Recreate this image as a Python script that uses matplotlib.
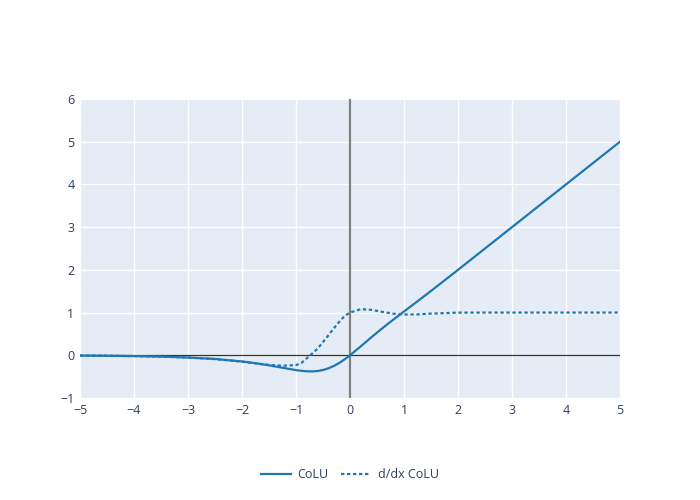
import matplotlib
matplotlib.use("Agg")
import matplotlib.pyplot as plt

plt.rcParams['font.family'] = ['Open Sans', 'DejaVu Sans']

# values
x = [-5, -4.5, -4, -3.5, -3, -2.5, -2, -1.75, -1.5, -1.25, -1, -0.9, -0.8,
     -0.7, -0.6, -0.5, -0.4, -0.3, -0.2, -0.1, 0, 0.2, 0.4, 0.6, 0.8, 1,
     1.25, 1.5, 2, 2.5, 3, 4, 5]
colu = [-0.007, -0.011, -0.019, -0.031, -0.052, -0.086, -0.144, -0.185,
        -0.235, -0.292, -0.347, -0.364, -0.375, -0.377, -0.368, -0.345,
        -0.306, -0.251, -0.181, -0.096, 0.0, 0.210, 0.426, 0.634, 0.832,
        1.025, 1.264, 1.506, 2.0, 2.5, 3.0, 4.0, 5.0]
dcolu = [-0.007, -0.011, -0.019, -0.032, -0.053, -0.089, -0.15, -0.19,
         -0.225, -0.245, -0.23, -0.18, -0.07, 0.04, 0.155, 0.31, 0.467,
         0.63, 0.783, 0.92, 1.0, 1.08, 1.064, 1.015, 0.974, 0.955, 0.957,
         0.976, 0.998, 1.0, 1.0, 1.0, 1.0]

x_ticks = [-5, -4, -3, -2, -1, 0, 1, 2, 3, 4, 5]
y_ticks = [-1, 0, 1, 2, 3, 4, 5, 6]

line_color = '#1f77b4'
text_color = '#2a3f5f'

fig = plt.figure(figsize=(7, 5), dpi=100)
ax = fig.add_axes([80 / 700, 102 / 500, 540 / 700, 299 / 500])
ax.set_facecolor('#E5ECF6')

ax.set_xlim(-5, 5)
ax.set_ylim(-1, 6)
ax.set_xticks(x_ticks)
ax.set_yticks(y_ticks)
ax.set_xticklabels(['\u2212' + str(-t) if t < 0 else str(t) for t in x_ticks])
ax.set_yticklabels(['\u2212' + str(-t) if t < 0 else str(t) for t in y_ticks])
ax.grid(True, color='white', linewidth=1.0)
ax.set_axisbelow(True)
for s in ax.spines.values():
    s.set_visible(False)
ax.tick_params(length=0, colors=text_color, labelsize=9, pad=4)

ax.axvline(0, color='#808080', linewidth=1.6, zorder=1)
ax.axhline(0, color='#333333', linewidth=0.9, zorder=1)

ax.plot(x, colu, color=line_color, linewidth=1.6, label='CoLU', zorder=3)
ax.plot(x, dcolu, color=line_color, linewidth=1.6, linestyle=(0, (1.5, 1.2)),
        label='d/dx CoLU', zorder=3)

leg = fig.legend(loc='center', bbox_to_anchor=(0.5, 25 / 500), ncol=2,
                 frameon=False, fontsize=9, handlelength=2.4,
                 columnspacing=1.0, handletextpad=0.5)
for t in leg.get_texts():
    t.set_color(text_color)

fig.savefig('out.png', dpi=100)
